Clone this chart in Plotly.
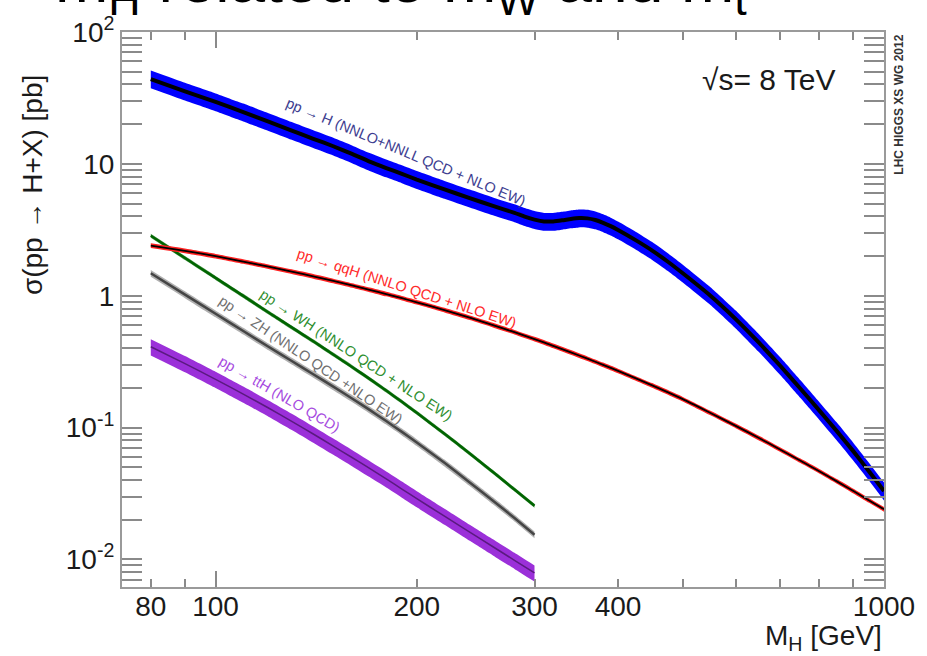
import plotly.graph_objects as go

# ---------------- data ----------------
masses_ggf = [80, 90, 100, 110, 120, 130, 140, 150, 160, 170, 180, 190, 200,
              220, 240, 260, 280, 290, 300, 310, 320, 330, 340, 350, 360, 370, 380,
              390, 400, 425, 450, 475, 500, 550, 600, 650, 700, 750, 800, 850, 900,
              950, 1000]
ggf = [44.0, 35.5, 29.5, 24.7, 20.9, 17.9, 15.5, 13.6, 11.9, 10.4, 9.3, 8.4, 7.6,
       6.4, 5.5, 4.8, 4.25, 3.98, 3.78, 3.66, 3.66, 3.73, 3.82, 3.88, 3.86, 3.75, 3.57,
       3.37, 3.15, 2.64, 2.2, 1.81, 1.48, 1.0, 0.665, 0.44, 0.293, 0.197, 0.135, 0.094, 0.066,
       0.0465, 0.033]

masses_vbf = [80, 90, 100, 110, 120, 130, 140, 150, 160, 170, 180, 190, 200,
              220, 240, 260, 280, 300, 320, 340, 360, 380, 400, 450, 500, 550,
              600, 650, 700, 750, 800, 850, 900, 950, 1000]
vbf = [2.40, 2.189, 1.995, 1.817, 1.662, 1.524, 1.403, 1.295, 1.197, 1.109, 1.030, 0.958, 0.892,
       0.778, 0.681, 0.599, 0.529, 0.469, 0.417, 0.372, 0.333, 0.299, 0.269, 0.209, 0.1643, 0.129,
       0.1031, 0.0833, 0.0680, 0.0560, 0.0467, 0.0391, 0.0330, 0.0280, 0.0240]

masses_vh = [80, 90, 100, 110, 120, 130, 140, 150, 160, 170, 180, 190, 200,
             220, 240, 260, 280, 300]
wh = [2.85, 1.93, 1.365, 0.998, 0.747, 0.575, 0.451, 0.358, 0.2884, 0.2340, 0.1910, 0.1568, 0.1294,
      0.0897, 0.0636, 0.0460, 0.0339, 0.0255]
zh = [1.48, 1.02, 0.73, 0.54, 0.41, 0.32, 0.254, 0.2045, 0.1663, 0.1362, 0.1121, 0.0928, 0.0771,
      0.0540, 0.0384, 0.0279, 0.0206, 0.0154]
tth = [0.41, 0.3055, 0.2323, 0.1796, 0.1407, 0.1116, 0.0894, 0.0724, 0.0593, 0.0490, 0.0408, 0.0342, 0.0289,
       0.0213, 0.0161, 0.01248, 0.00985, 0.0079]

# relative uncertainty (up, down)
unc = {"ggf": (0.16, 0.15), "vbf": (0.04, 0.04), "wh": (0.035, 0.035),
       "zh": (0.06, 0.06), "tth": (0.14, 0.14)}

x_ticks = [80, 100, 200, 300, 400, 1000]
x_ticktext = ["80", "100", "200", "300", "400", "1000"]
x_minor = [90, 500, 600, 700, 800, 900]
x_major_long = [100, 1000]
y_ticks = [0.01, 0.1, 1, 10, 100]
y_ticktext = ["10<sup>-2</sup>", "10<sup>-1</sup>", "1", "10", "10<sup>2</sup>"]
y_minor = [k * 10.0 ** e for e in range(-3, 2) for k in range(2, 10)]

FONT = "Liberation Sans, Arial, Helvetica, sans-serif"

fig = go.Figure()
SM = 0.5


def band(x, y, key, color):
    up, dn = unc[key]
    fig.add_trace(go.Scatter(x=x, y=[v * (1 + up) for v in y], mode="lines",
                             line=dict(width=0, color=color, shape="spline", smoothing=SM),
                             showlegend=False, hoverinfo="skip"))
    fig.add_trace(go.Scatter(x=x, y=[v * (1 - dn) for v in y], mode="lines",
                             line=dict(width=0, color=color, shape="spline", smoothing=SM),
                             fill="tonexty", fillcolor=color, showlegend=False,
                             hoverinfo="skip"))


def line(x, y, color, width):
    fig.add_trace(go.Scatter(x=x, y=y, mode="lines",
                             line=dict(color=color, width=width, shape="spline", smoothing=SM),
                             showlegend=False, hoverinfo="skip"))


band(masses_vh, tth, "tth", "#9b30d9")
line(masses_vh, tth, "#5a1a80", 1.5)
band(masses_vh, zh, "zh", "#b0b0b0")
line(masses_vh, zh, "#454545", 2.5)
band(masses_vh, wh, "wh", "#5aa05a")
line(masses_vh, wh, "#006400", 2.5)
band(masses_vbf, vbf, "vbf", "#ff2020")
line(masses_vbf, vbf, "#000000", 1.8)
band(masses_ggf, ggf, "ggf", "#0000ff")
line(masses_ggf, ggf, "#000000", 4)

# dummy trace to realise the long-tick overlay axis
fig.add_trace(go.Scatter(x=[100], y=[1], xaxis="x2", yaxis="y", mode="markers",
                         marker=dict(opacity=0), showlegend=False, hoverinfo="skip"))

axcol = "#9a9a9a"
tickcol = "#8a8a8a"
xrange_ = [1.86, 3.0]
yrange_ = [-2.209, 2.0]

fig.update_layout(
    width=927, height=656,
    margin=dict(l=122, r=39, t=23, b=69),
    paper_bgcolor="white", plot_bgcolor="white",
    font=dict(family=FONT, color="#1a1a1a"),
    xaxis=dict(type="log", range=xrange_, tickvals=x_ticks, ticktext=x_ticktext,
               ticks="inside", ticklen=8, tickwidth=1.5, tickcolor=tickcol,
               showline=True, linecolor=axcol, linewidth=2, mirror="allticks",
               showgrid=False, zeroline=False, ticklabelstandoff=-7,
               tickfont=dict(size=28, family=FONT, color="#1a1a1a"),
               minor=dict(tickvals=x_minor, ticks="inside", ticklen=8, tickwidth=1.5,
                          tickcolor=tickcol, showgrid=False)),
    xaxis2=dict(type="log", range=xrange_, overlaying="x", anchor="y", side="bottom",
                tickvals=x_major_long, ticks="inside", ticklen=16, tickwidth=1.5,
                tickcolor=tickcol, showticklabels=False, showline=False, mirror="ticks",
                showgrid=False, zeroline=False),
    yaxis=dict(type="log", range=yrange_, tickvals=y_ticks, ticktext=y_ticktext,
               ticks="inside", ticklen=20, tickwidth=1.5, tickcolor=tickcol,
               showline=True, linecolor=axcol, linewidth=2, mirror="allticks",
               showgrid=False, zeroline=False,
               tickfont=dict(size=28, family=FONT, color="#1a1a1a"),
               minor=dict(tickvals=y_minor, ticks="inside", ticklen=10, tickwidth=1.5,
                          tickcolor=tickcol, showgrid=False)),
)

ann = []
# cut-off title at the very top
ann.append(dict(text="m<sub>H</sub> related to m<sub>W</sub> and m<sub>t</sub>",
                xref="paper", yref="paper", x=-0.09, y=1.01, xanchor="left", yanchor="bottom",
                showarrow=False, font=dict(size=64, family=FONT, color="black")))
# axis titles
ann.append(dict(text="σ(pp → H+X) [pb]", xref="paper", yref="paper",
                x=-0.1175, y=0.725, xanchor="center", yanchor="middle", textangle=-90,
                showarrow=False, font=dict(size=28, family=FONT, color="#1a1a1a")))
ann.append(dict(text="M<sub>H</sub> [GeV]", xref="paper", yref="paper",
                x=1.0, y=-0.0904, xanchor="right", yanchor="middle", showarrow=False,
                font=dict(size=28, family=FONT, color="#1a1a1a")))
ann.append(dict(text="√s= 8 TeV", xref="paper", yref="paper", x=0.849, y=0.915,
                xanchor="center", yanchor="middle",
                showarrow=False, font=dict(size=30, family=FONT, color="#1a1a1a")))
ann.append(dict(text="<b>LHC HIGGS XS WG 2012</b>", xref="paper", yref="paper",
                x=1.0196, y=0.869, xanchor="center", yanchor="middle", textangle=-90,
                showarrow=False, font=dict(size=12, family=FONT, color="#333333")))
# process labels along the curves
labels = [
    ("pp → H (NNLO+NNLL QCD + NLO EW)", 2.2848, 1.0933, 22.7, "#3d3d90"),
    ("pp → qqH (NNLO QCD + NLO EW)", 2.2855, 0.056, 17.8, "#ff2a2a"),
    ("pp → WH (NNLO QCD + NLO EW)", 2.2104, -0.4478, 33.3, "#2f8f2f"),
    ("pp → ZH (NNLO QCD +NLO EW)", 2.1427, -0.485, 34.0, "#707070"),
    ("pp → ttH (NLO QCD)", 2.0951, -0.746, 30.1, "#a64be0"),
]
for txt, lx, ly, ang, col in labels:
    ann.append(dict(text=txt, xref="x", yref="y", x=lx, y=ly, textangle=ang,
                    xanchor="center", yanchor="middle",
                    showarrow=False, font=dict(size=14.5, family=FONT, color=col)))
fig.update_layout(annotations=ann)

fig.write_html("out.html")
